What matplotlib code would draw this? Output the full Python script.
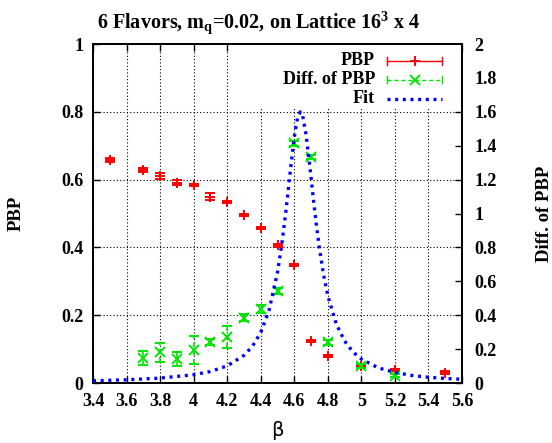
import matplotlib
matplotlib.use("Agg")
import matplotlib.pyplot as plt
from matplotlib.lines import Line2D
from matplotlib.patches import Rectangle

plt.rcParams["font.family"] = ["Liberation Serif", "DejaVu Serif"]
plt.rcParams["font.weight"] = "bold"
plt.rcParams["mathtext.fontset"] = "custom"
plt.rcParams["mathtext.rm"] = "Liberation Serif:bold"
plt.rcParams["mathtext.bf"] = "Liberation Serif:bold"
plt.rcParams["mathtext.it"] = "Liberation Serif:bold"

# Chiral condensate (PBP) vs beta
beta_pbp = [3.5, 3.7, 3.8, 3.9, 4.0, 4.1, 4.2, 4.3, 4.4, 4.5, 4.6, 4.7, 4.8, 5.0, 5.2, 5.5]
pbp = [0.658, 0.628, 0.612, 0.591, 0.583, 0.550, 0.534, 0.496, 0.456, 0.406,
       0.347, 0.123, 0.080, 0.050, 0.038, 0.031]
pbp_err = [0.005, 0.006, 0.009, 0.007, 0.003, 0.011, 0.004, 0.003, 0.003, 0.004,
           0.003, 0.003, 0.003, 0.003, 0.004, 0.003]

# Derivative of PBP (right axis)
beta_diff = [3.7, 3.8, 3.9, 4.0, 4.1, 4.2, 4.3, 4.4, 4.5, 4.6, 4.7, 4.8, 5.0, 5.2]
diff = [0.146, 0.181, 0.142, 0.195, 0.242, 0.273, 0.385, 0.437, 0.543,
        1.414, 1.332, 0.240, 0.100, 0.043]
diff_err = [0.040, 0.055, 0.040, 0.085, 0.015, 0.064, 0.020, 0.025, 0.020,
            0.015, 0.012, 0.015, 0.010, 0.010]

# Fit curve through the derivative (right axis)
beta_fit = [3.4, 3.6, 3.8, 4.0, 4.1, 4.2, 4.3, 4.35, 4.4, 4.45, 4.5, 4.525, 4.55,
            4.575, 4.6, 4.62, 4.636, 4.65, 4.67, 4.69, 4.71, 4.73, 4.75, 4.775,
            4.8, 4.85, 4.9, 4.95, 5.0, 5.1, 5.2, 5.3, 5.4, 5.5, 5.6]
fit = [0.013, 0.019, 0.029, 0.049, 0.068, 0.101, 0.163, 0.216, 0.298, 0.431,
       0.653, 0.814, 1.013, 1.239, 1.453, 1.568, 1.600, 1.576, 1.467, 1.303,
       1.120, 0.946, 0.793, 0.637, 0.515, 0.349, 0.248, 0.183, 0.141, 0.090,
       0.062, 0.045, 0.034, 0.027, 0.022]

x_ticks = [3.4, 3.6, 3.8, 4.0, 4.2, 4.4, 4.6, 4.8, 5.0, 5.2, 5.4, 5.6]
x_labels = ["3.4", "3.6", "3.8", "4", "4.2", "4.4", "4.6", "4.8", "5", "5.2", "5.4", "5.6"]
y1_ticks = [0, 0.2, 0.4, 0.6, 0.8, 1.0]
y1_labels = ["0", "0.2", "0.4", "0.6", "0.8", "1"]
y2_ticks = [0, 0.2, 0.4, 0.6, 0.8, 1.0, 1.2, 1.4, 1.6, 1.8, 2.0]
y2_labels = ["0", "0.2", "0.4", "0.6", "0.8", "1", "1.2", "1.4", "1.6", "1.8", "2"]
key_labels = ["PBP", "Diff. of PBP", "Fit"]

RED = "#ff0000"
GREEN = "#00e600"
BLUE = "#0000ff"
FS = 13
FIT_STYLE = dict(color=BLUE, linewidth=2.4, linestyle=(0, (0.9, 1.4)), dash_capstyle="butt")

fig = plt.figure(figsize=(5.52, 4.43), dpi=100)
ax = fig.add_axes([0.1685, 0.1354, 0.6685, 0.7652])
ax2 = ax.twinx()

ax.set_xlim(3.4, 5.6)
ax.set_ylim(0, 1)
ax2.set_ylim(0, 2)

ax.set_xticks(x_ticks)
ax.set_xticklabels(x_labels, fontsize=FS, fontweight="bold")
ax.set_yticks(y1_ticks)
ax.set_yticklabels(y1_labels, fontsize=FS, fontweight="bold")
ax2.set_yticks(y2_ticks)
ax2.set_yticklabels(y2_labels, fontsize=FS, fontweight="bold")

ax.tick_params(axis="x", direction="in", top=True, length=5, width=1, pad=7)
ax.tick_params(axis="y", direction="in", right=False, length=5, width=1, pad=7)
ax2.tick_params(axis="y", direction="in", length=5, width=1, pad=9)
for a in (ax, ax2):
    for s in a.spines.values():
        s.set_linewidth(1.3)

ax.grid(True, color="black", linestyle=(0, (1, 2)), linewidth=0.8)
ax.set_axisbelow(True)

# PBP with error bars (left axis)
ax.errorbar(beta_pbp, pbp, yerr=pbp_err, fmt="+", color=RED, ms=7, mew=1.4,
            elinewidth=1.2, capsize=3.5, capthick=1.2, zorder=3)

# Derivative with dashed error bars (right axis)
eb = ax2.errorbar(beta_diff, diff, yerr=diff_err, fmt="x", color=GREEN, ms=6.5, mew=1.4,
                  elinewidth=1.2, capsize=3.5, capthick=1.2, zorder=3)
for lc in eb[2]:
    lc.set_linestyle((0, (3, 2)))

ax2.plot(beta_fit, fit, zorder=4, **FIT_STYLE)

ax.set_ylabel("PBP", fontsize=FS + 0.5, fontweight="bold", labelpad=26)
ax2.set_ylabel("Diff. of PBP", fontsize=FS + 0.5, fontweight="bold", rotation=90,
               labelpad=28)
ax.set_xlabel("β", fontsize=14, fontweight="normal", family="DejaVu Sans", labelpad=8)

fig.text(0.469, 0.937, r"6 Flavors, m$_{\mathbf{q}}$=0.02, on Lattice 16$^{\mathbf{3}}$ x 4",
         ha="center", va="baseline", fontsize=14.5, fontweight="bold")

# Key: opaque box, right-aligned labels, samples to their right
T = ax2.transAxes
ax2.add_patch(Rectangle((0.385, 0.812), 0.612, 0.186, transform=T, facecolor="white",
                        edgecolor="none", zorder=6))
rows = [0.950, 0.895, 0.839]
x0, x1, xm = 0.798, 0.946, 0.872
cap = 0.011
for lab, yy in zip(key_labels, rows):
    ax2.text(0.764, yy, lab, transform=T, ha="right", va="center", fontsize=FS,
             fontweight="bold", zorder=7)

# PBP sample
ax2.add_line(Line2D([x0, x1], [rows[0]] * 2, transform=T, color=RED, lw=1.0, zorder=7))
for xe in (x0, x1):
    ax2.add_line(Line2D([xe, xe], [rows[0] - cap, rows[0] + cap], transform=T,
                        color=RED, lw=1.0, zorder=7))
ax2.add_line(Line2D([xm], [rows[0]], transform=T, color=RED, marker="+", ms=7, mew=1.4,
                    zorder=7))
# Diff sample
ax2.add_line(Line2D([x0, x1], [rows[1]] * 2, transform=T, color=GREEN, lw=1.0,
                    linestyle=(0, (3, 2)), zorder=7))
for xe in (x0, x1):
    ax2.add_line(Line2D([xe, xe], [rows[1] - cap, rows[1] + cap], transform=T,
                        color=GREEN, lw=1.0, zorder=7))
ax2.add_line(Line2D([xm], [rows[1]], transform=T, color=GREEN, marker="x", ms=6.5,
                    mew=1.4, zorder=7))
# Fit sample
ax2.add_line(Line2D([x0, x1], [rows[2]] * 2, transform=T, zorder=7, **FIT_STYLE))

fig.savefig("out.png", dpi=100)
